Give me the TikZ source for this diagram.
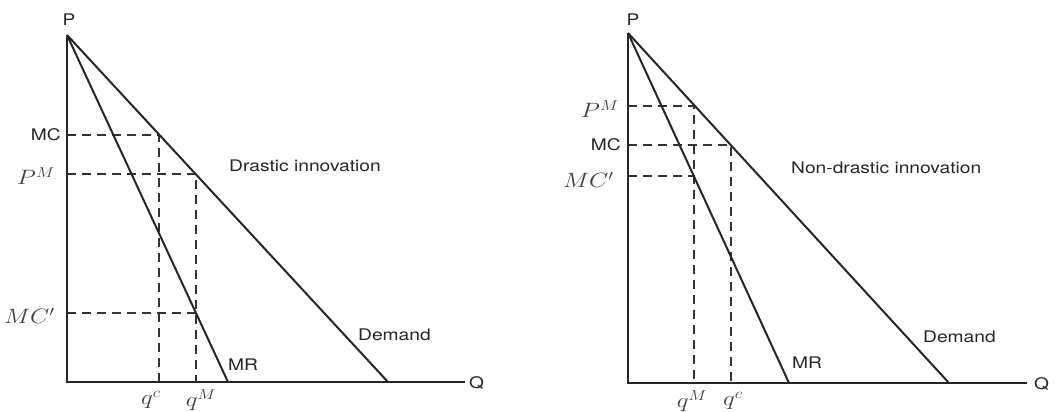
\documentclass[tikz,border=0pt]{standalone}
\usepackage{fontspec}
\usepackage{graphicx}
\setsansfont{TeX Gyre Heros}
\newcommand{\hs}[1]{\scalebox{1.2}[1]{#1}}
\begin{document}
\begin{tikzpicture}[x=1pt,y=-1pt,
  axis/.style={line width=2.1pt,black!85},
  curve/.style={line width=2pt,black!85},
  guide/.style={line width=2pt,black!80,dash pattern=on 9pt off 6pt},
  lab/.style={inner sep=0pt,font=\sffamily\fontsize{16}{18}\selectfont,text=black!85},
  mlab/.style={inner sep=0pt,font=\fontsize{20}{22}\selectfont,text=black!75}]
\useasboundingbox (0,0) rectangle (1055,412);
% ---------- left panel ----------
\coordinate (O1) at (67,382);
\coordinate (P1) at (67,35);
\coordinate (Q1) at (465,382);
\coordinate (MRa) at (228,382);
\coordinate (Da) at (388,382);
\coordinate (mc1y) at (67,135);
\coordinate (mc1d) at (159,135);
\coordinate (qc1) at (159,382);
\coordinate (pm1y) at (67,174);
\coordinate (pm1d) at (196,174);
\coordinate (qm1) at (196,382);
\coordinate (mcp1y) at (67,313);
\coordinate (mcp1m) at (196,313);
\draw[guide] (mc1y) -- (mc1d) -- (qc1);
\draw[guide] (pm1y) -- (pm1d) -- (qm1);
\draw[guide] (mcp1y) -- (mcp1m);
\draw[axis] (P1) -- (O1) -- (Q1);
\draw[curve] (P1) -- (MRa);
\draw[curve] (P1) -- (Da);
\node[lab] (P1l) at (69,20) {\hs{P}};
\node[lab,anchor=west] (Q1l) at (469,383) {\hs{Q}};
\node[lab,anchor=east] (MC1l) at (61,135) {\hs{MC}};
\node[mlab,anchor=east] (PM1l) at (55,176) {\hs{$P^M$}};
\node[mlab,anchor=east] (MCp1l) at (55,316) {\hs{$MC'$}};
\node[lab,anchor=west] (Dr) at (229,166) {\hs{Drastic innovation}};
\node[lab,anchor=west] (De1) at (358,335) {\hs{Demand}};
\node[lab,anchor=west] (MR1l) at (228,365) {\hs{MR}};
\node[mlab] (qc1l) at (151,400) {\hs{$q^c$}};
\node[mlab] (qm1l) at (201,400) {\hs{$q^M$}};
% ---------- right panel ----------
\coordinate (O2) at (628,383);
\coordinate (P2) at (628,33);
\coordinate (Q2) at (1027,383);
\coordinate (MRb) at (789,383);
\coordinate (Db) at (949,383);
\coordinate (pm2y) at (628,106);
\coordinate (pm2d) at (694,106);
\coordinate (qm2) at (694,383);
\coordinate (mc2y) at (628,145);
\coordinate (mc2d) at (731,145);
\coordinate (qc2) at (731,383);
\coordinate (mcp2y) at (628,176);
\coordinate (mcp2m) at (694,176);
\draw[guide] (pm2y) -- (pm2d) -- (qm2);
\draw[guide] (mc2y) -- (mc2d) -- (qc2);
\draw[guide] (mcp2y) -- (mcp2m);
\draw[axis] (P2) -- (O2) -- (Q2);
\draw[curve] (P2) -- (MRb);
\draw[curve] (P2) -- (Db);
\node[lab] (P2l) at (633,20) {\hs{P}};
\node[lab,anchor=west] (Q2l) at (1034,384) {\hs{Q}};
\node[mlab,anchor=east] (PM2l) at (619,109) {\hs{$P^M$}};
\node[lab,anchor=east] (MC2l) at (621,145) {\hs{MC}};
\node[mlab,anchor=east] (MCp2l) at (614,180) {\hs{$MC'$}};
\node[lab,anchor=west] (ND) at (791,168) {\hs{Non-drastic innovation}};
\node[lab,anchor=west] (De2) at (923,337) {\hs{Demand}};
\node[lab,anchor=west] (MR2l) at (792,363) {\hs{MR}};
\node[mlab] (qm2l) at (692,401) {\hs{$q^M$}};
\node[mlab] (qc2l) at (733,401) {\hs{$q^c$}};
\end{tikzpicture}
\end{document}
